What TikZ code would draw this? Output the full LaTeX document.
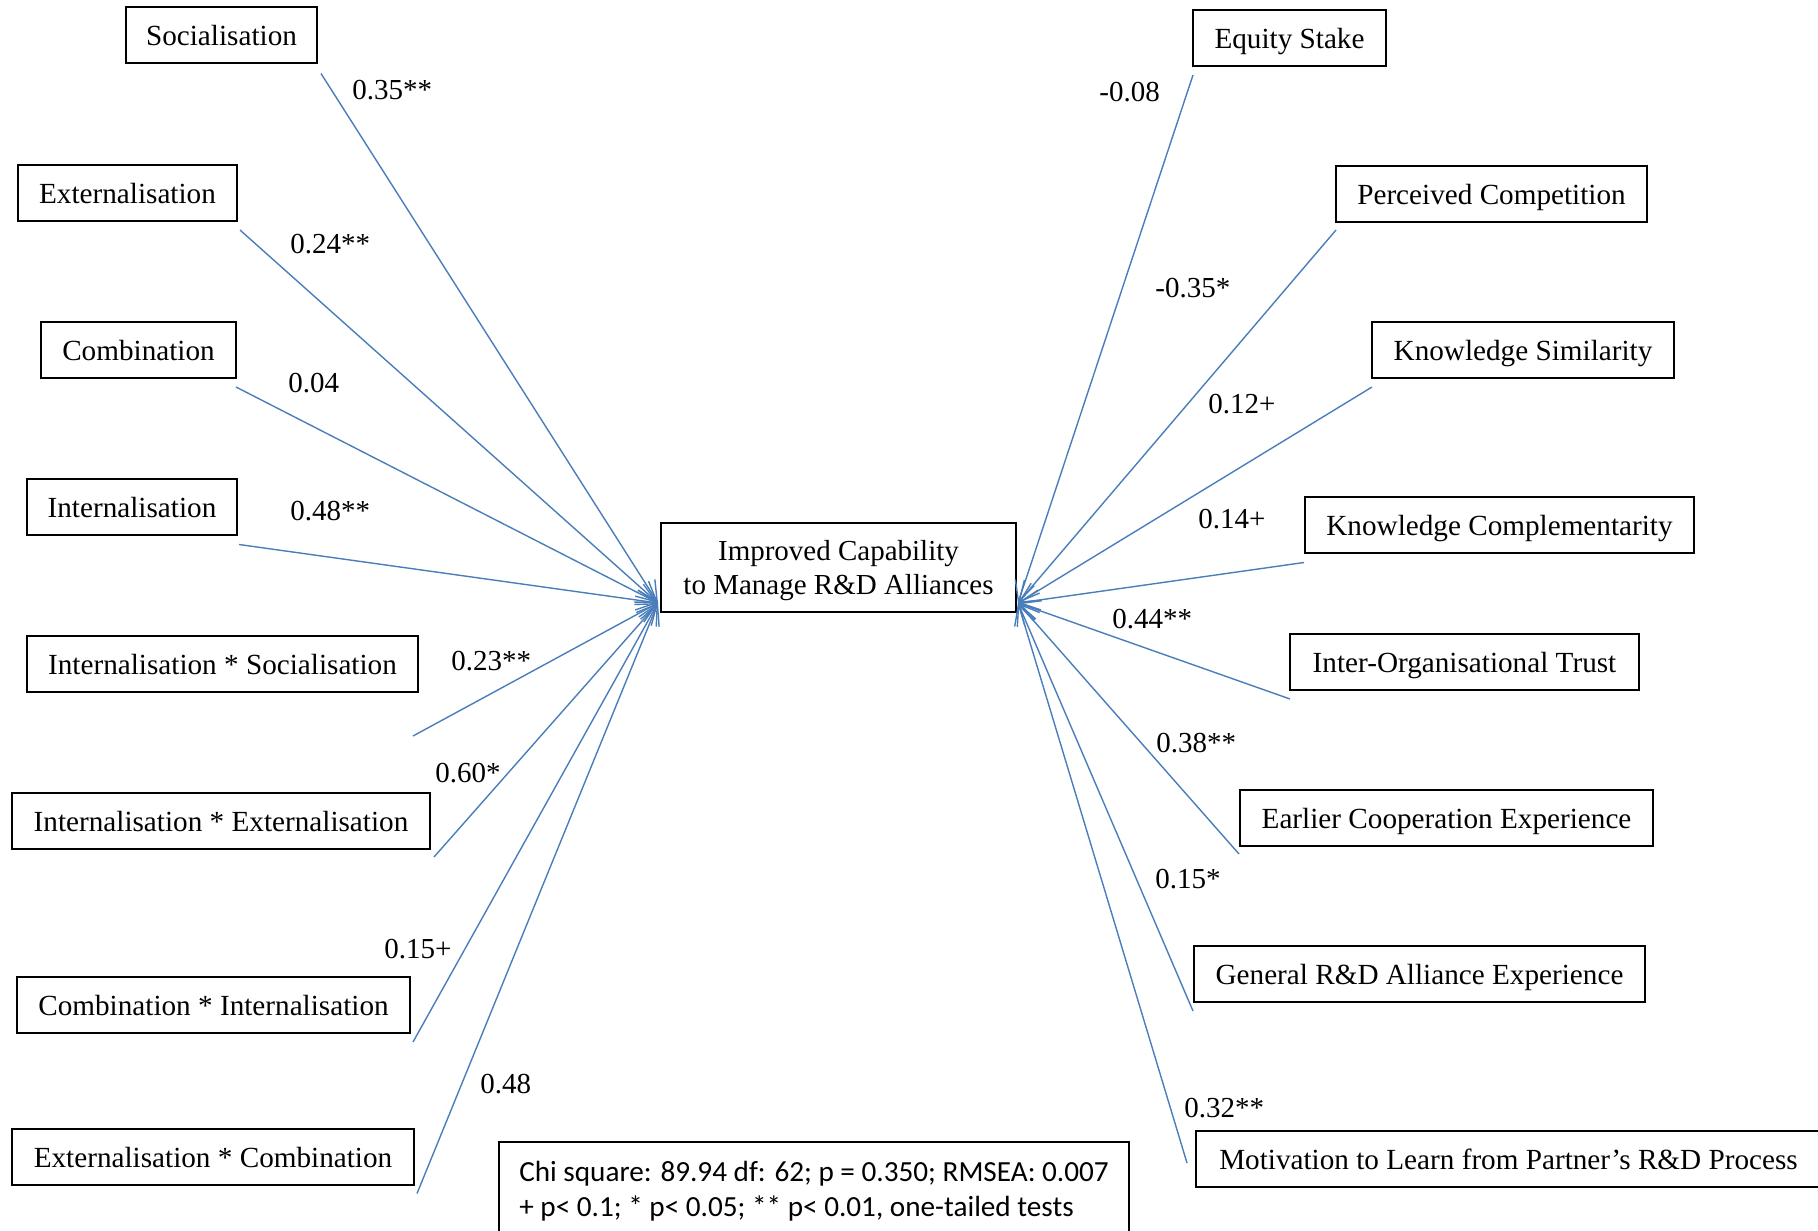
\documentclass[tikz,border=0pt]{standalone}
\usepackage{fontspec}
\setmainfont{Liberation Serif}
\newfontfamily\calibri{Carlito}
\usetikzlibrary{arrows.meta}
\definecolor{lineblue}{HTML}{4A7EBB}
\begin{document}
\begin{tikzpicture}[x=0.5pt,y=-0.5pt,
  box/.style={draw=black,line width=1pt,inner sep=0pt,minimum height=28pt,
    font=\fontsize{14.6}{17}\selectfont,text height=1.05em,text depth=0pt},
  mainbox/.style={draw=black,line width=1pt,inner sep=0pt,align=center,
    font=\fontsize{14.5}{16.8}\selectfont,text depth=0pt},
  coef/.style={anchor=base west,inner sep=0pt,font=\fontsize{14.5}{17}\selectfont},
  conn/.style={draw=lineblue,line width=0.7pt,-{Straight Barb[length=10pt,width=10pt]}}]
\useasboundingbox (0,0) rectangle (1818,1230);
\clip (0,0) rectangle (1818,1230);
\fill[white] (0,0) rectangle (1818,1230);

% left boxes
\node[box,minimum width=95.5pt]  (soc)     at (221.5,35.5)  {Socialisation};
\node[box,minimum width=109.5pt] (ext)     at (127.5,193)   {Externalisation};
\node[box,minimum width=97.5pt]  (comb)    at (138.5,350)   {Combination};
\node[box,minimum width=105pt]   (int)     at (132,506.5)   {Internalisation};
\node[box,minimum width=195.5pt] (intsoc)  at (222.5,664)   {Internalisation * Socialisation};
\node[box,minimum width=209pt]   (intext)  at (221,821)     {Internalisation * Externalisation};
\node[box,minimum width=196.5pt] (combint) at (213.5,1005)  {Combination * Internalisation};
\node[box,minimum width=201pt]   (extcomb) at (213,1156.5)  {Externalisation * Combination};

% right boxes
\node[box,minimum width=96.5pt]  (eq)    at (1289.5,38)  {Equity Stake};
\node[box,minimum width=155.5pt] (comp)  at (1491.5,194) {Perceived Competition};
\node[box,minimum width=151pt]   (sim)   at (1523,350)   {Knowledge Similarity};
\node[box,minimum width=194.5pt] (compl) at (1499.5,524.5) {Knowledge Complementarity};
\node[box,minimum width=174.5pt] (trust) at (1464.5,662) {Inter-Organisational Trust};
\node[box,minimum width=206.5pt] (earl)  at (1446.5,818) {Earlier Cooperation Experience};
\node[box,minimum width=225.5pt] (gen)   at (1419.5,974) {General R\&D Alliance Experience};
\node[box,minimum width=312.5pt] (mot)   at (1508.5,1159) {Motivation to Learn from Partner’s R\&D Process};

% central box
\node[mainbox,minimum width=177.5pt,minimum height=44.5pt] (main) at (838.5,567.5)
  {Improved Capability\\to Manage R\&D Alliances};

% statistics box
\node[draw=black,line width=1pt,anchor=north west,inner xsep=0pt,inner ysep=0pt,
  minimum width=315pt,text depth=30pt,align=left,
  font=\calibri\fontsize{14.6}{17.5}\selectfont] (stats) at (498,1141)
  {\rule{0pt}{19.5pt}Chi square: 89.94 df: 62; p = 0.350; RMSEA: 0.007\\+ p< 0.1; * p< 0.05; ** p< 0.01, one-tailed tests};

% convergence points
\coordinate (tl) at ([shift={(-2,-10)}]main.south west);
\coordinate (tr) at ([shift={(1,-10)}]main.south east);

% left connectors
\draw[conn] ([shift={(3,9)}]soc.south east) -- (tl);
\draw[conn] ([shift={(2,8)}]ext.south east) -- (tl);
\draw[conn] ([shift={(-1,8)}]comb.south east) -- (tl);
\draw[conn] ([shift={(1,9)}]int.south east) -- (tl);
\draw[conn] ([shift={(-6,43)}]intsoc.south east) -- (tl);
\draw[conn] ([shift={(3,7)}]intext.south east) -- (tl);
\draw[conn] ([shift={(2,8)}]combint.south east) -- (tl);
\draw[conn] ([shift={(2,8)}]extcomb.south east) -- (tl);

% right connectors
\draw[conn] ([shift={(1,8)}]eq.south west) -- (tr);
\draw[conn] ([shift={(1,7)}]comp.south west) -- (tr);
\draw[conn] ([shift={(1,8)}]sim.south west) -- (tr);
\draw[conn] ([shift={(0,9)}]compl.south west) -- (tr);
\draw[conn] ([shift={(1,8)}]trust.south west) -- (tr);
\draw[conn] ([shift={(0,7)}]earl.south west) -- (tr);
\draw[conn] ([shift={(0,8)}]gen.south west) -- (tr);
\draw[conn] ([shift={(-8,4)}]mot.west) -- (tr);

% coefficients left
\node[coef] (c1) at (352,100)  {0.35**};
\node[coef] (c2) at (290,253)  {0.24**};
\node[coef] (c3) at (288,392)  {0.04};
\node[coef] (c4) at (290,520)  {0.48**};
\node[coef] (c5) at (451,670)  {0.23**};
\node[coef] (c6) at (435,782)  {0.60*};
\node[coef] (c7) at (384,958)  {0.15+};
\node[coef] (c8) at (480,1093) {0.48};

% coefficients right
\node[coef] (d1) at (1099,102)  {-0.08};
\node[coef] (d2) at (1155,297)  {-0.35*};
\node[coef] (d3) at (1208,413)  {0.12+};
\node[coef] (d4) at (1198,528)  {0.14+};
\node[coef] (d5) at (1112,628)  {0.44**};
\node[coef] (d6) at (1156,752)  {0.38**};
\node[coef] (d7) at (1155,888)  {0.15*};
\node[coef] (d8) at (1184,1117) {0.32**};
\end{tikzpicture}
\end{document}
